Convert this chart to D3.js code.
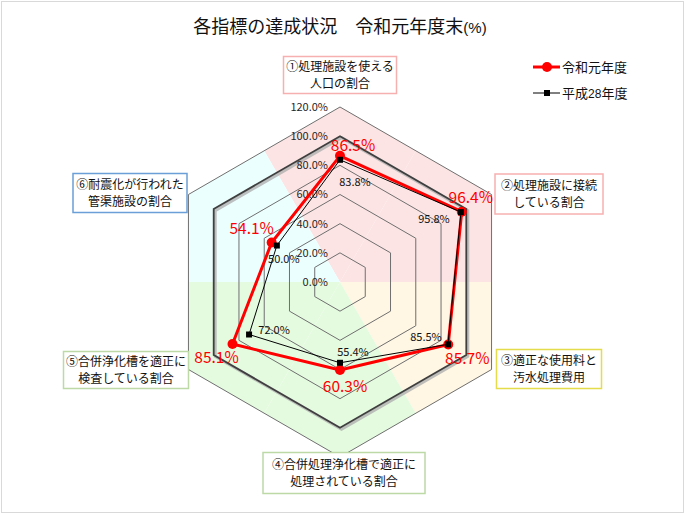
<!DOCTYPE html>
<html>
<head>
<meta charset="utf-8">
<script src="https://cdn.jsdelivr.net/npm/d3@7"></script>
<style>
  body { margin: 0; background: #fff; }
  svg text { font-family: "Noto Sans CJK JP", sans-serif; }
</style>
</head>
<body>
<svg id="chart" width="686" height="516"></svg>
<script>
// data
const categories = [
  ["①処理施設を使える", "人口の割合"],
  ["②処理施設に接続", "している割合"],
  ["③適正な使用料と", "汚水処理費用"],
  ["④合併処理浄化槽で適正に", "処理されている割合"],
  ["⑤合併浄化槽を適正に", "検査している割合"],
  ["⑥耐震化が行われた", "管渠施設の割合"]
];
const seriesNames = ["令和元年度", "平成28年度"];
const valuesR1 = [86.5, 96.4, 85.7, 60.3, 85.1, 54.1];
const valuesH28 = [83.8, 95.8, 85.5, 55.4, 72.0, 50.0];
const ticks = [0, 20, 40, 60, 80, 100, 120];

// layout / styling
const sectorFill = ["#fde4e4", "#fde4e4", "#fff6e3", "#e5fbe0", "#e5fbe0", "#ecffff"];
const boxStroke = ["#f7b0b0", "#f7b0b0", "#e4dc4a", "#bcd9a6", "#bcd9a6", "#6a9fd8"];
// label boxes: [cx, cy, w, h, fontSize]
const boxes = [
  [340, 75, 113, 37, 12],
  [549, 194, 108, 40, 12],
  [549, 369, 105, 39, 12],
  [344, 473, 162, 41, 12],
  [126, 370, 125, 37, 12],
  [130, 193, 114, 39, 12]
];
const offR1 = [[13, -10], [9, -14], [19, 14], [5, 17], [-16, 14], [-20, -14]];
const offH28 = [[15, 22], [-27, 7], [-22, -7], [13, -11], [25, -4], [7, 14]];

const svg = d3.select("#chart");
const cx = 340, cy = 282;
const r = d3.scaleLinear().domain([0, 120]).range([0, 175]);
const angle = d3.scaleLinear().domain([0, categories.length]).range([0, 2 * Math.PI]);
const pt = (i, v) => [cx + r(v) * Math.sin(angle(i)), cy - r(v) * Math.cos(angle(i))];
const hex = v => d3.range(categories.length).map(i => pt(i, v));
const line = d3.line().curve(d3.curveLinearClosed);

// chart border
svg.append("rect").attr("x", 1.5).attr("y", 1.5).attr("width", 682).attr("height", 511)
  .attr("fill", "#fff").attr("stroke", "#d9d9d9");

// title
const title = svg.append("text").attr("x", 340).attr("y", 33).attr("text-anchor", "middle")
  .attr("font-size", 18).attr("fill", "#111");
title.append("tspan").text("各指標の達成状況　令和元年度末");
title.append("tspan").attr("font-family", "Liberation Sans, Arial").attr("font-size", 15).text("(%)");

// background sectors
const outer = hex(120);
const mid = (a, b) => [(a[0] + b[0]) / 2, (a[1] + b[1]) / 2];
svg.append("g").selectAll("path").data(categories).join("path")
  .attr("d", (d, i) => {
    const n = outer.length;
    const prev = outer[(i + n - 1) % n], cur = outer[i], next = outer[(i + 1) % n];
    return line([[cx, cy], mid(prev, cur), cur, mid(cur, next)]);
  })
  .attr("fill", (d, i) => sectorFill[i]);

// grid
const grid = svg.append("g").attr("fill", "none");
grid.selectAll("path.thin").data(ticks.filter(t => t > 0 && t !== 100)).join("path")
  .attr("class", "thin")
  .attr("d", t => line(hex(t)))
  .attr("stroke", "#6f6f6f").attr("stroke-width", 1);
grid.append("path").attr("d", line(hex(100))).attr("transform", "translate(1.5,1.5)")
  .attr("stroke", "#b0b0b0").attr("stroke-width", 3).attr("opacity", 0.8);
grid.append("path").attr("d", line(hex(100)))
  .attr("stroke", "#3f3f3f").attr("stroke-width", 1.8);

// tick labels
svg.append("g").selectAll("text").data(ticks).join("text")
  .attr("x", cx - 12).attr("y", t => cy - r(t)).attr("dy", "0.35em")
  .attr("text-anchor", "end").attr("font-family", "Roboto, sans-serif").attr("font-size", 11)
  .attr("fill", "#262626")
  .text(t => t.toFixed(1) + "%");

// series 令和元年度
svg.append("path").attr("d", line(valuesR1.map((v, i) => pt(i, v))))
  .attr("fill", "none").attr("stroke", "#ff0000").attr("stroke-width", 3).attr("stroke-linejoin", "round");
svg.append("g").selectAll("circle").data(valuesR1).join("circle")
  .attr("cx", (v, i) => pt(i, v)[0]).attr("cy", (v, i) => pt(i, v)[1]).attr("r", 5)
  .attr("fill", "#ff0000");

// series 平成28年度
svg.append("path").attr("d", line(valuesH28.map((v, i) => pt(i, v))))
  .attr("fill", "none").attr("stroke", "#000").attr("stroke-width", 1);
svg.append("g").selectAll("rect").data(valuesH28).join("rect")
  .attr("x", (v, i) => pt(i, v)[0] - 3).attr("y", (v, i) => pt(i, v)[1] - 3)
  .attr("width", 6).attr("height", 6).attr("fill", "#000");

// data labels
svg.append("g").selectAll("text").data(valuesR1).join("text")
  .attr("x", (v, i) => pt(i, v)[0] + offR1[i][0]).attr("y", (v, i) => pt(i, v)[1] + offR1[i][1])
  .attr("dy", "0.35em").attr("text-anchor", "middle")
  .attr("font-family", "Roboto, sans-serif").attr("font-size", 15.5).attr("fill", "#ff0000")
  .text(v => v.toFixed(1) + "%");
svg.append("g").selectAll("text").data(valuesH28).join("text")
  .attr("x", (v, i) => pt(i, v)[0] + offH28[i][0]).attr("y", (v, i) => pt(i, v)[1] + offH28[i][1])
  .attr("dy", "0.35em").attr("text-anchor", "middle")
  .attr("font-family", "Roboto, sans-serif").attr("font-size", 11).attr("fill", "#111")
  .text(v => v.toFixed(1) + "%");

// category label boxes
const lab = svg.append("g").selectAll("g").data(categories).join("g")
  .attr("transform", (d, i) => `translate(${boxes[i][0]},${boxes[i][1]})`);
lab.append("rect")
  .attr("x", (d, i) => -boxes[i][2] / 2).attr("y", (d, i) => -boxes[i][3] / 2)
  .attr("width", (d, i) => boxes[i][2]).attr("height", (d, i) => boxes[i][3])
  .attr("fill", "#fff").attr("stroke", (d, i) => boxStroke[i]).attr("stroke-width", 1.5);
lab.each(function (d, i) {
  const t = d3.select(this).append("text").attr("text-anchor", "middle")
    .attr("font-size", boxes[i][4]).attr("fill", "#111");
  d.forEach((s, k) => t.append("tspan").attr("x", 0).attr("y", (k - 0.5) * 17).attr("dy", "0.35em").text(s));
});

// legend
const leg = svg.append("g").attr("transform", "translate(533,0)");
const legY = [67, 93];
leg.selectAll("line").data(seriesNames).join("line")
  .attr("x1", 0).attr("x2", 27).attr("y1", (d, i) => legY[i]).attr("y2", (d, i) => legY[i])
  .attr("stroke", (d, i) => i ? "#000" : "#ff0000").attr("stroke-width", (d, i) => i ? 1 : 3);
leg.append("circle").attr("cx", 14).attr("cy", legY[0]).attr("r", 5).attr("fill", "#ff0000");
leg.append("rect").attr("x", 11).attr("y", legY[1] - 3).attr("width", 6).attr("height", 6).attr("fill", "#000");
leg.selectAll("text").data(seriesNames).join("text")
  .attr("x", 29).attr("y", (d, i) => legY[i]).attr("dy", "0.35em")
  .attr("font-size", 13).attr("fill", "#111")
  .each(function (d) {
    const t = d3.select(this);
    d.split(/(\d+)/).forEach(part => {
      if (!part) return;
      const sp = t.append("tspan").text(part);
      if (/\d/.test(part)) sp.attr("font-family", "Liberation Sans, Arial").attr("font-size", 12);
    });
  });
</script>
</body>
</html>
